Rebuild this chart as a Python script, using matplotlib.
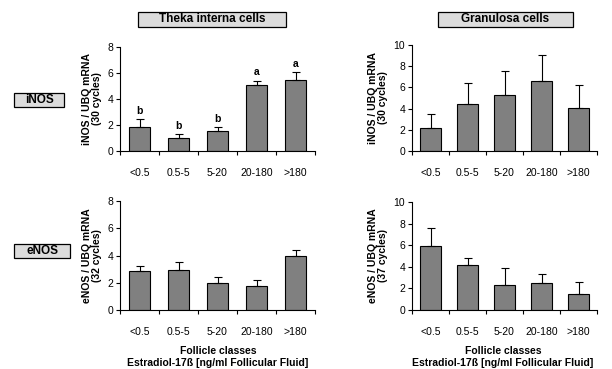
import numpy as np
import matplotlib.pyplot as plt
from matplotlib.patches import Rectangle

plt.rcParams['font.family'] = ['Liberation Sans', 'DejaVu Sans']

classes = ['<0.5', '0.5-5', '5-20', '20-180', '>180']

# iNOS theka interna (30 cycles)
inos_theka = [1.85, 1.03, 1.52, 5.06, 5.47]
inos_theka_err = [2.43, 1.29, 1.86, 5.42, 6.06]
inos_theka_sig = ['b', 'b', 'b', 'a', 'a']

# iNOS granulosa (30 cycles)
inos_gran = [2.2, 4.45, 5.33, 6.62, 4.1]
inos_gran_err = [3.47, 6.37, 7.57, 9.02, 6.18]

# eNOS theka interna (32 cycles)
enos_theka = [2.85, 2.94, 1.96, 1.74, 3.98]
enos_theka_err = [3.24, 3.5, 2.4, 2.2, 4.44]

# eNOS granulosa (37 cycles)
enos_gran = [5.94, 4.18, 2.32, 2.48, 1.52]
enos_gran_err = [7.62, 4.83, 3.9, 3.31, 2.57]

W, H = 612, 369
fig = plt.figure(figsize=(W / 100, H / 100), dpi=100)


def px_axes(x0, x1, ytop, ybot):
    return fig.add_axes([x0 / W, 1 - ybot / H, (x1 - x0) / W, (ybot - ytop) / H])


def panel(ax, vals, tops, ymax, ylabel, sig=None):
    x = np.arange(len(classes))
    vals = np.array(vals)
    tops = np.array(tops)
    ax.bar(x, vals, width=0.55, color='#808080', edgecolor='black', linewidth=0.8, zorder=2)
    ax.errorbar(x, vals, yerr=[np.zeros(len(vals)), tops - vals], fmt='none',
                ecolor='black', elinewidth=0.8, capsize=3, capthick=0.8, zorder=3)
    if sig is not None:
        for xi, t, s in zip(x, tops, sig):
            ax.text(xi, t + ymax * 0.03, s, ha='center', va='bottom',
                    fontsize=7.5, fontweight='bold')
    ax.set_xlim(-0.5, len(classes) - 0.5)
    ax.set_ylim(0, ymax)
    ax.set_yticks(np.arange(0, ymax + 1, 2))
    ax.set_xticks(x)
    ax.set_xticklabels(classes)
    ax.set_xticks(np.arange(-0.5, len(classes)), minor=True)
    ax.tick_params(axis='x', which='major', length=0, labelsize=7.5, pad=12)
    ax.tick_params(axis='x', which='minor', length=3, width=0.8, direction='out')
    ax.tick_params(axis='y', length=3, width=0.8, labelsize=7.5, pad=2)
    for s in ['top', 'right']:
        ax.spines[s].set_visible(False)
    for s in ['left', 'bottom']:
        ax.spines[s].set_linewidth(0.8)
    ax.set_ylabel(ylabel, fontsize=7.5, fontweight='bold', linespacing=1.0, labelpad=4)


ax1 = px_axes(120, 315, 47, 151)
panel(ax1, inos_theka, inos_theka_err, 8, 'iNOS / UBQ mRNA\n(30 cycles)', inos_theka_sig)

ax2 = px_axes(412, 597, 45, 151)
panel(ax2, inos_gran, inos_gran_err, 10, 'iNOS / UBQ mRNA\n(30 cycles)')

ax3 = px_axes(120, 315, 201, 310)
panel(ax3, enos_theka, enos_theka_err, 8, 'eNOS / UBQ mRNA\n(32 cycles)')

ax4 = px_axes(412, 597, 202, 310)
panel(ax4, enos_gran, enos_gran_err, 10, 'eNOS / UBQ mRNA\n(37 cycles)')


def label_box(x0, x1, y0, y1, text):
    fig.patches.append(Rectangle((x0 / W, 1 - y1 / H), (x1 - x0) / W, (y1 - y0) / H,
                                 transform=fig.transFigure, facecolor='#dcdcdc',
                                 edgecolor='black', linewidth=0.9))
    fig.text((x0 + x1) / 2 / W, 1 - (y0 + y1) / 2 / H, text, ha='center', va='center',
             fontsize=8.5, fontweight='bold')


label_box(138, 286, 12, 27, 'Theka interna cells')
label_box(438, 573, 12, 27, 'Granulosa cells')
label_box(14, 64, 93, 107, 'iNOS')
label_box(14, 70, 244, 258, 'eNOS')

xlab = 'Follicle classes\nEstradiol-17ß [ng/ml Follicular Fluid]'
fig.text(218 / W, 1 - 357 / H, xlab, ha='center', va='center', fontsize=7.5,
         fontweight='bold', linespacing=1.3)
fig.text(503 / W, 1 - 357 / H, xlab, ha='center', va='center', fontsize=7.5,
         fontweight='bold', linespacing=1.3)

fig.savefig('out.png', dpi=100)
